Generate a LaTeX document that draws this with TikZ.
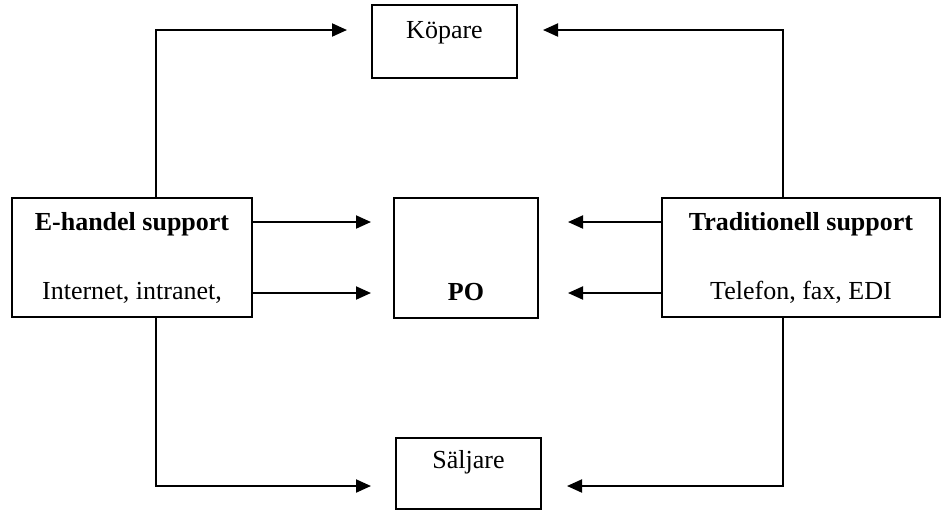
\documentclass[tikz,border=0pt]{standalone}
\usepackage{fontspec}
\setmainfont{Liberation Serif}
\usepackage{tikz}
\usetikzlibrary{arrows.meta}

\begin{document}
\begin{tikzpicture}[x=0.5pt,y=-0.5pt,line width=1pt,
        font=\fontsize{13}{15}\selectfont,
        >={Triangle[length=7.5pt,width=6.5pt]},
        box/.style={draw,inner sep=0pt,align=center}]
        \useasboundingbox (0,0) rectangle (941,510);
        \node[box,minimum width=72.5pt,minimum height=36.5pt,
            label={[yshift=4.25pt]center:Köpare}] (kopare) at (444.5,41.5) {};
        \node[box,minimum width=72pt,minimum height=60pt,
            label={[yshift=-17.25pt]center:\textbf{PO}}] (po) at (466,257.5) {};
        \node[box,minimum width=72.5pt,minimum height=35.5pt,
            label={[yshift=5.75pt]center:Säljare}] (saljare) at (468.5,473.5) {};
        \node[box,minimum width=120pt,minimum height=59.5pt] (ehandel) at (132,257.5)
            {\textbf{E-handel support}\\[19.5pt]Internet, intranet,};
        \node[box,minimum width=139pt,minimum height=59.5pt] (trad) at (801,257.5)
            {\textbf{Traditionell support}\\[19.5pt]Telefon, fax, EDI};

        \draw[->] ([xshift=12pt]ehandel.north) |- ([xshift=-12pt,yshift=5.75pt]kopare.west);
        \draw[->] ([xshift=-9pt]trad.north) |- ([xshift=12.5pt,yshift=5.75pt]kopare.east);
        \draw[->] ([yshift=17.75pt]ehandel.east) -- ([xshift=-11pt,yshift=17.75pt]po.west);
        \draw[->] ([yshift=-17.75pt]ehandel.east) -- ([xshift=-11pt,yshift=-17.75pt]po.west);
        \draw[->] ([yshift=17.75pt]trad.west) -- ([xshift=14.5pt,yshift=17.75pt]po.east);
        \draw[->] ([yshift=-17.75pt]trad.west) -- ([xshift=14.5pt,yshift=-17.75pt]po.east);
        \draw[->] ([xshift=12pt]ehandel.south) |- ([xshift=-12pt,yshift=-6.25pt]saljare.west);
        \draw[->] ([xshift=-9pt]trad.south) |- ([xshift=12.5pt,yshift=-6.25pt]saljare.east);
\end{tikzpicture}
\end{document}
